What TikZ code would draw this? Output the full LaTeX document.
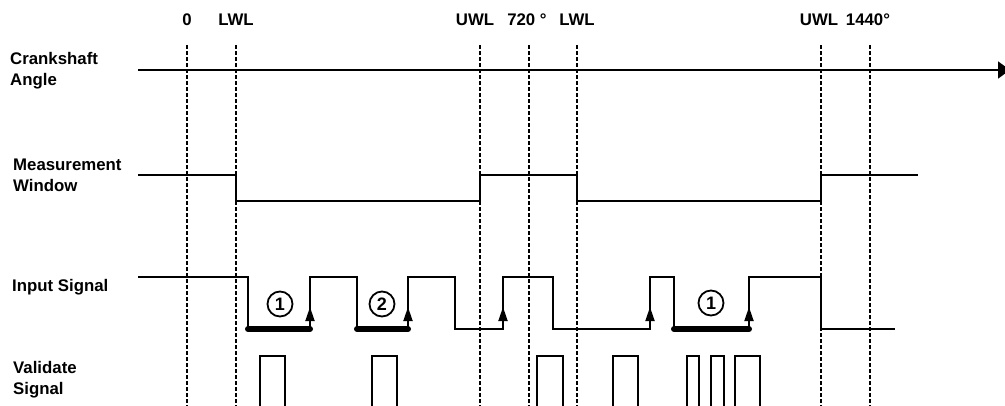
\documentclass[tikz,border=0pt]{standalone}
\usepackage{fontspec}
\setmainfont{Liberation Sans}
\usetikzlibrary{arrows.meta}

\begin{document}
\begin{tikzpicture}[x=1pt,y=-1pt,
        rotulo/.style={font=\bfseries\fontsize{16.8}{21}\selectfont,align=left,anchor=west,inner sep=0pt},
        marca/.style={font=\bfseries\fontsize{16.8}{21}\selectfont,inner sep=0pt},
        guia/.style={line width=1.8pt,dash pattern=on 4pt off 2pt},
        sinal/.style={line width=1.8pt},
        seta/.style={-{Triangle[length=14pt,width=9pt]},line width=1.8pt},
        barra/.style={line width=6pt,line cap=round},
        num/.style={draw,circle,line width=1.8pt,minimum size=25pt,inner sep=0pt,
                    font=\bfseries\fontsize{18}{20}\selectfont}]
      \useasboundingbox (0,0) rectangle (1005,405);
      % rotulos das linhas
      \node[rotulo] (eixo) at (10,71) {Crankshaft\\Angle};
      \node[rotulo] (janela) at (13,175) {Measurement\\Window};
      \node[rotulo] (entrada) at (12,287) {Input Signal};
      \node[rotulo] (valida) at (13,380) {Validate\\Signal};
      % marcas de angulo e linhas guia
      \foreach \x/\lx/\t/\nm in {187/187/0/z,236/236/LWL/la,480/475/UWL/ua,529/527/720 °/m,
                                 577/577/LWL/lb,821/819/UWL/ub,870/868/1440°/f}
        {\node[marca] (\nm) at (\lx,20) {\t};
         \draw[guia] (\x,45) -- (\x,410);}
      % sinais
      \draw[sinal,-{Triangle[length=12pt,width=17pt]}] (138,70) -- (1010,70);
      \draw[sinal] (138,175) -| (236,201) -| (480,175) -| (577,201) -| (821,175) -- (918,175);
      \draw[sinal] (138,277) -| (248,329) -| (310,277) -| (357,329) -| (408,277) -| (455,329)
                   -| (503,277) -| (553,329) -| (650,277) -| (674,329) -| (749,277) -| (821,329) -- (895,329);
      \foreach \x in {310,408,503,650,749} \draw[seta] (\x,329) -- (\x,307);
      \foreach \a/\b in {248/310,357/408,674/749} \draw[barra] (\a,329) -- (\b,329);
      \foreach \a/\b in {260/285,372/397,537/563,613/638,687/699,711/724,735/760}
        \draw[sinal] (\a,410) |- (\b,356) -- (\b,410);
      \node[num] (n1) at (280,304) {1};
      \node[num] (n2) at (382,304) {2};
      \node[num] (n3) at (711,303) {1};
    \end{tikzpicture}
\end{document}
